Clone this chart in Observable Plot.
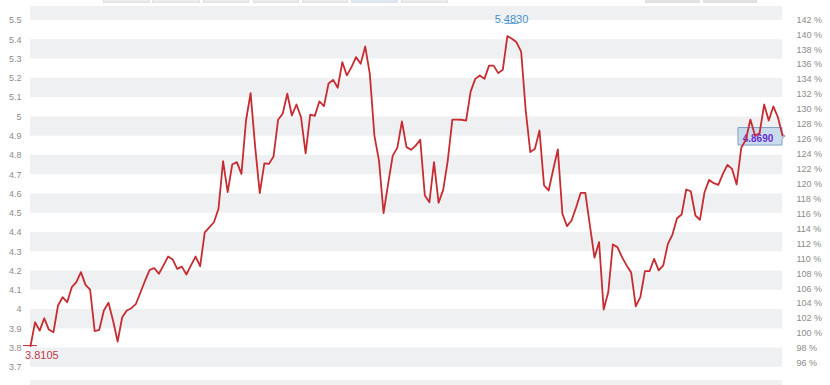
<!DOCTYPE html>
<html>
<head>
<meta charset="utf-8">
<script src="https://cdn.jsdelivr.net/npm/d3@7"></script>
<script src="https://cdn.jsdelivr.net/npm/@observablehq/plot@0.6"></script>
<style>
  html, body { margin: 0; padding: 0; background: #fff; }
  #wrap { position: relative; width: 830px; height: 385px; overflow: hidden; }
  .tab { position: absolute; top: 0; height: 3px; background: #ececec; border: 1px solid #e0e0e0; border-top: none; box-sizing: border-box; }
</style>
</head>
<body>
<div id="wrap"></div>
<script>
// ---- data ----
const leftTicks = [3.7, 3.8, 3.9, 4, 4.1, 4.2, 4.3, 4.4, 4.5, 4.6, 4.7, 4.8, 4.9, 5, 5.1, 5.2, 5.3, 5.4, 5.5];
const pctTicks = [96, 98, 100, 102, 104, 106, 108, 110, 112, 114, 116, 118, 120, 122, 124, 126, 128, 130, 132, 134, 136, 138, 140, 142];
const pctBase = 3.876;
const bandLow = [5.5, 5.3, 5.1, 4.9, 4.7, 4.5, 4.3, 4.1, 3.9, 3.7];
const bandHigh = [5.6, 5.4, 5.2, 5.0, 4.8, 4.6, 4.4, 4.2, 4.0, 3.8];
const values = [
  3.8105, 3.934, 3.891, 3.955, 3.896, 3.882, 4.021, 4.064, 4.038, 4.116,
  4.142, 4.194, 4.128, 4.104, 3.888, 3.895, 3.995, 4.035, 3.943, 3.834,
  3.960, 3.995, 4.007, 4.030, 4.090, 4.151, 4.206, 4.215, 4.186, 4.229,
  4.275, 4.260, 4.211, 4.223, 4.182, 4.229, 4.275, 4.225, 4.401, 4.427,
  4.453, 4.523, 4.770, 4.609, 4.753, 4.765, 4.704, 4.981, 5.123, 4.843,
  4.604, 4.759, 4.756, 4.794, 4.985, 5.016, 5.120, 5.007, 5.064, 4.998,
  4.811, 5.011, 5.005, 5.080, 5.056, 5.173, 5.192, 5.151, 5.284, 5.215,
  5.258, 5.310, 5.275, 5.365, 5.223, 4.903, 4.773, 4.500, 4.653, 4.799,
  4.839, 4.977, 4.843, 4.829, 4.851, 4.881, 4.592, 4.557, 4.765, 4.554,
  4.621, 4.773, 4.986, 4.986, 4.985, 4.981, 5.132, 5.197, 5.215, 5.197,
  5.266, 5.266, 5.227, 5.244, 5.419, 5.405, 5.387, 5.339, 5.033, 4.817,
  4.834, 4.929, 4.644, 4.618, 4.727, 4.831, 4.497, 4.433, 4.462, 4.531,
  4.606, 4.606, 4.436, 4.269, 4.350, 4.000, 4.090, 4.338, 4.324, 4.272,
  4.229, 4.192, 4.016, 4.065, 4.199, 4.199, 4.263, 4.203, 4.229, 4.341,
  4.389, 4.474, 4.493, 4.623, 4.614, 4.488, 4.466, 4.609, 4.673, 4.656,
  4.647, 4.704, 4.751, 4.730, 4.649, 4.839, 4.881, 4.986, 4.903, 4.915,
  5.064, 4.981, 5.054, 4.998, 4.903
];
const minLabel = "3.8105", minValue = 3.8105, minIndex = 0;
const maxLabel = "5.4830", maxValue = 5.483, maxIndex = 105;
const lastLabel = "4.8690";

// ---- build ----
const series = values.map((v, i) => ({i, v}));
const bands = bandLow.map((lo, k) => ({lo, hi: bandHigh[k]}));
const lastIdx = values.length - 1;
const font = "'Liberation Sans', Arial, sans-serif";

function annotations(index, {x, y}) {
  const g = d3.create("svg:g").attr("font-family", font);
  // min marker
  const mx = x(minIndex), my = y(minValue);
  g.append("line").attr("x1", mx - 7).attr("x2", mx + 7).attr("y1", my).attr("y2", my)
    .attr("stroke", "#c62c31").attr("stroke-width", 1);
  g.append("text").attr("x", mx - 5).attr("y", my + 13).attr("font-size", 11)
    .attr("text-anchor", "start").attr("fill", "#c0394a").text(minLabel);
  // max marker
  const Mx = x(maxIndex), My = y(maxValue);
  g.append("line").attr("x1", Mx - 7).attr("x2", Mx + 7).attr("y1", My).attr("y2", My)
    .attr("stroke", "#4a90c8").attr("stroke-width", 1);
  g.append("text").attr("x", Mx).attr("y", My).attr("font-size", 11)
    .attr("text-anchor", "middle").attr("fill", "#4a90c8").text(maxLabel);
  // last value callout
  const X = x(lastIdx), Y = y(values[lastIdx]);
  const top = Y - 7.5, bot = Y + 10, left = X - 44;
  g.append("path")
    .attr("d", `M${left},${top}H${X}V${Y - 2}L${X + 3},${Y + 1}L${X},${Y + 4}V${bot}H${left}Z`)
    .attr("fill", "#c9dcee").attr("stroke", "#7f9fc0").attr("stroke-width", 1);
  g.append("text").attr("x", X - 24).attr("y", Y + 6.5).attr("font-size", 10)
    .attr("font-weight", "bold").attr("text-anchor", "middle").attr("fill", "#6b2fd1").text(lastLabel);
  return g.node();
}

const chart = Plot.plot({
  width: 830,
  height: 385,
  marginLeft: 30,
  marginRight: 48,
  marginTop: 6,
  marginBottom: 0,
  style: {fontFamily: font, fontSize: "9px", color: "#8c8c8c", background: "#fff"},
  x: {domain: [0, lastIdx], axis: null},
  y: {domain: [3.6059, 5.5727], axis: null},
  marks: [
    Plot.rect(bands, {x1: () => 0, x2: () => lastIdx + 0.2, y1: "lo", y2: "hi", fill: "#eef0f2", clip: true}),
    Plot.rect([{lo: 3.5, hi: 3.632}], {x1: () => 0, x2: () => lastIdx + 0.2, y1: "lo", y2: "hi", fill: "#eef0f2", clip: true}),
    Plot.axisY(leftTicks, {anchor: "left", tickSize: 0, tickPadding: 9, tickFormat: d => String(d)}),
    Plot.axisY(pctTicks.map(p => p * pctBase / 100), {anchor: "right", tickSize: 0, tickPadding: 14,
      tickFormat: d => Math.round(d / pctBase * 100) + " %", textAnchor: "start"}),
    annotations,
    Plot.line(series, {x: "i", y: "v", stroke: "#c62c31", strokeWidth: 1.8, strokeLinejoin: "round"})
  ]
});

const wrap = document.getElementById("wrap");
wrap.appendChild(chart);

// top UI tabs (cut off at top edge)
const tabs = [[103,150,"#ececec"],[152,200,"#ececec"],[203,249,"#ececec"],[253,299,"#ececec"],[302,348,"#ececec"],[351,398,"#dce8f4"],[401,448,"#ececec"],[645,700,"#e2e2e2"],[703,757,"#e2e2e2"]];
for (const [a, b, c] of tabs) {
  const d = document.createElement("div");
  d.className = "tab";
  d.style.left = a + "px";
  d.style.width = (b - a) + "px";
  d.style.background = c;
  wrap.appendChild(d);
}
</script>
</body>
</html>
